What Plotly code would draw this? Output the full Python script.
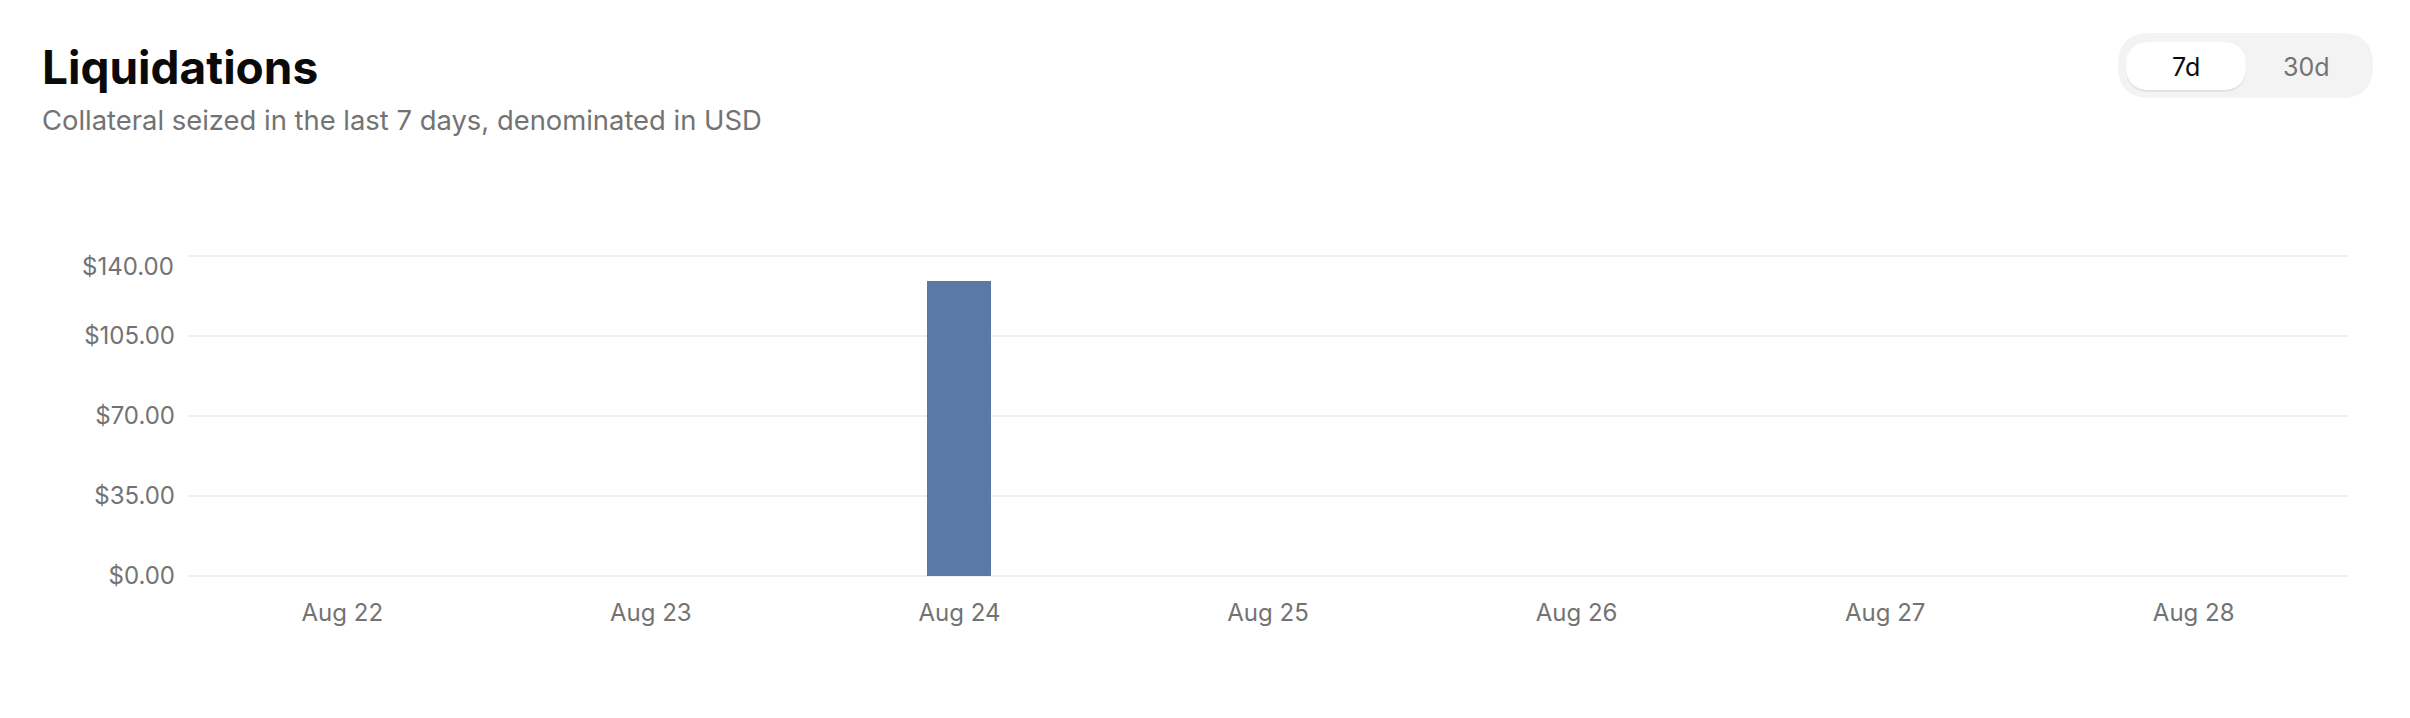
import plotly.graph_objects as go

# ---- data ----
days = ["Aug 22", "Aug 23", "Aug 24", "Aug 25", "Aug 26", "Aug 27", "Aug 28"]
liquidations_usd = [0, 0, 129, 0, 0, 0, 0]
y_ticks = [0, 35, 70, 105, 140]
y_tick_labels = ["$0.00", "$35.00", "$70.00", "$105.00", "$140.00"]

W, H = 2410, 718
L, R, T, B = 188, 62, 251, 142
PW, PH = W - L - R, H - T - B
Y_TOP = 142.1875  # small headroom so the 140 gridline is drawn

def px(x):
    return (x - L) / PW

def py(y):
    return 1 - (y - T) / PH

FONT = "Inter, Roboto, sans-serif"
GRAY = "#737373"

fig = go.Figure()
fig.add_trace(go.Bar(
    x=days, y=liquidations_usd, width=0.207,
    marker=dict(color="#5a79a4", line=dict(width=0)),
    hovertemplate="%{x}: $%{y:,.2f}<extra></extra>",
))

def rrect(x0, y0, x1, y1, r):
    return (f"M {px(x0 + r)} {py(y0)} L {px(x1 - r)} {py(y0)} "
            f"Q {px(x1)} {py(y0)} {px(x1)} {py(y0 + r)} L {px(x1)} {py(y1 - r)} "
            f"Q {px(x1)} {py(y1)} {px(x1 - r)} {py(y1)} L {px(x0 + r)} {py(y1)} "
            f"Q {px(x0)} {py(y1)} {px(x0)} {py(y1 - r)} L {px(x0)} {py(y0 + r)} "
            f"Q {px(x0)} {py(y0)} {px(x0 + r)} {py(y0)} Z")

shapes = [
    dict(type="path", xref="paper", yref="paper", path=rrect(2118, 33, 2373, 98, 32),
         fillcolor="#f3f3f3", line=dict(width=0), layer="above"),
    dict(type="path", xref="paper", yref="paper", path=rrect(2126, 43, 2246, 92, 24),
         fillcolor="#e2e2e2", line=dict(width=0), layer="above"),
    dict(type="path", xref="paper", yref="paper", path=rrect(2126, 42, 2246, 90, 24),
         fillcolor="#ffffff", line=dict(width=0), layer="above"),
]

# top tick label sits just below its gridline in the reference
axis_labels = list(y_tick_labels)
top_label = axis_labels[-1]
axis_labels[-1] = ""

annotations = [
    dict(text="<b>Liquidations</b>", x=px(40), y=py(67), xref="paper", yref="paper",
         xanchor="left", yanchor="middle", showarrow=False,
         font=dict(family=FONT, size=46, color="#0a0a0a")),
    dict(text="Collateral seized in the last 7 days, denominated in USD", x=px(40), y=py(120),
         xref="paper", yref="paper", xanchor="left", yanchor="middle", showarrow=False,
         font=dict(family=FONT, size=27.4, color=GRAY)),
    dict(text="7d", x=px(2186), y=py(67), xref="paper", yref="paper",
         xanchor="center", yanchor="middle", showarrow=False,
         font=dict(family=FONT, size=25, color="#0a0a0a")),
    dict(text="30d", x=px(2306), y=py(67), xref="paper", yref="paper",
         xanchor="center", yanchor="middle", showarrow=False,
         font=dict(family=FONT, size=25, color=GRAY)),
    dict(text=top_label, x=px(176), y=y_ticks[-1], xref="paper", yref="y",
         xanchor="right", yanchor="middle", yshift=-10, showarrow=False,
         font=dict(family=FONT, size=24, color=GRAY)),
]

fig.update_layout(
    width=W, height=H,
    margin=dict(l=L, r=R, t=T, b=B, pad=0),
    paper_bgcolor="white", plot_bgcolor="white",
    showlegend=False,
    shapes=shapes, annotations=annotations,
    font=dict(family=FONT, color=GRAY, size=24),
    bargap=0,
)
fig.update_xaxes(
    type="category", range=[-0.5, 6.5], showgrid=False, zeroline=False,
    showline=False, ticks="", ticklabelstandoff=20,
    tickfont=dict(family=FONT, size=24, color=GRAY), fixedrange=True,
)
fig.update_yaxes(
    range=[0, Y_TOP], tickmode="array", tickvals=y_ticks, ticktext=axis_labels,
    showgrid=True, gridcolor="#efefef", gridwidth=2,
    zeroline=True, zerolinecolor="#efefef", zerolinewidth=2,
    showline=False, ticks="", ticklabelstandoff=12,
    tickfont=dict(family=FONT, size=24, color=GRAY), fixedrange=True,
)

fig.write_html("out.html", config={"displayModeBar": False},
               post_script="document.body.style.margin='0';")
